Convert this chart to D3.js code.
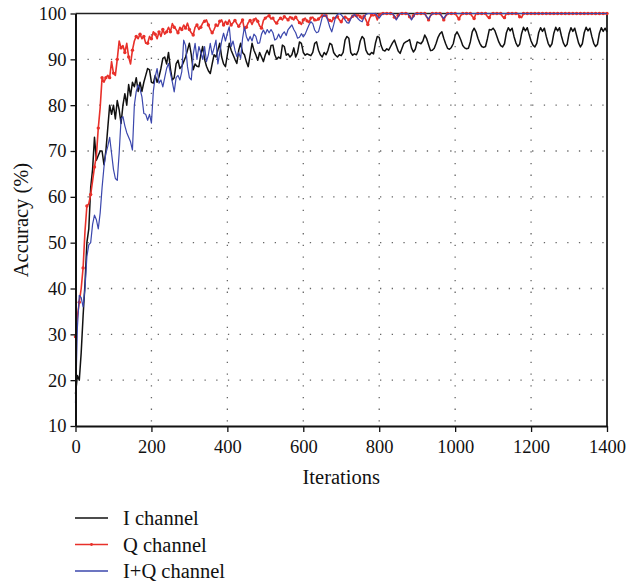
<!DOCTYPE html>
<html>
<head>
<meta charset="utf-8">
<script src="https://cdn.jsdelivr.net/npm/d3@7"></script>
<style>
  body { margin: 0; background: #fff; }
  text { font-family: "Liberation Serif", "DejaVu Serif", serif; fill: #111; }
</style>
</head>
<body>
<svg id="chart" width="638" height="584"></svg>
<script>
// Training accuracy sampled every 5 iterations (0 … 1400)
const iterations = d3.range(0, 1401, 5);

const xTicks = [0, 200, 400, 600, 800, 1000, 1200, 1400];
const yTicks = [10, 20, 30, 40, 50, 60, 70, 80, 90, 100];

const seriesNames = ["I channel", "Q channel", "I+Q channel"];

const iChannel = [
  17, 21, 20, 26, 34, 41, 50, 53, 62, 66,
  73, 68, 69, 70, 70, 67, 70, 75, 80, 78,
  80, 77, 81, 79, 76, 80, 82.5, 80, 84.5, 82,
  85, 84, 86, 83, 85, 83, 85, 86.5, 88, 87.7,
  85, 84.8, 86.5, 85, 86.2, 88, 90.2, 90.5, 89, 91.5,
  88, 85.5, 86, 89, 89.8, 88, 88.5, 89.5, 90.5, 92,
  93.5, 91, 87.7, 89, 88.5, 88.4, 91, 92.8, 90, 88.5,
  87.5, 86.9, 89, 91, 90.5, 92, 93.5, 90.5, 89, 88.4,
  91, 93.5, 92, 91, 90, 89.1, 92, 93.5, 91.5, 91,
  89.5, 88.4, 91, 93.5, 92, 91, 89.8, 91.5, 90.5, 89.5,
  91, 92, 91, 93, 93.1, 91, 90, 90.5, 90.2, 93.1,
  92.8, 90.9, 91.2, 90.5, 91, 92.5, 90.5, 91.5, 93.8, 93.5,
  91.5, 90.9, 91.2, 91, 90.8, 91.5, 93.5, 93.8, 92, 91,
  90.5, 91.5, 91, 92, 93.5, 93.2, 91.5, 90.9, 90.5, 91,
  90.8, 91.5, 94.2, 95, 94.6, 91.5, 90.9, 91.2, 91, 92,
  94, 95, 94.5, 92, 91.2, 91, 91.5, 91.2, 93.5, 95,
  94.8, 93, 92, 91.8, 92.3, 92, 92.8, 93.6, 94.2, 93,
  91.8, 91.3, 92.4, 93.5, 93.8, 94, 94.3, 92.5, 91.6, 92.2,
  93.8, 93.6, 93.4, 94, 95.3, 94.5, 93.2, 91.9, 92, 92.4,
  93.5, 94.8, 95.6, 96, 94.6, 93.4, 92.4, 92.2, 92.6, 93.4,
  95.3, 96, 95.2, 94.2, 93, 92.5, 92.3, 92.4, 93.8, 96,
  96.8, 96, 94.6, 93.5, 92.8, 92.6, 92.8, 94.5, 96.5, 96.4,
  96.8, 96.2, 95, 93.8, 93, 92.7, 93.4, 95.8, 96.9, 96.2,
  96.8, 95, 93.6, 92.8, 93.3, 95.6, 97, 96.2, 96.9, 95.4,
  94, 93.1, 92.7, 93.5, 95.8, 96.9, 96.1, 96.8, 95, 93.5,
  92.7, 93.4, 95.7, 97, 96.2, 96.9, 95.1, 93.6, 92.8, 93.3,
  95.6, 96.9, 96.1, 96.8, 95.2, 93.6, 92.7, 93.4, 95.8, 97,
  96.2, 96.8, 95, 93.5, 92.8, 93.3, 95.7, 96.9, 96.1, 96.8,
  96
];

const qChannel = [
  29.5, 34, 37, 40, 44.5, 52.5, 58, 58.5, 60.5, 63.5,
  66.5, 69, 75, 79.5, 86, 85, 86, 86.5, 86, 89.5,
  87, 86.5, 90, 94, 92.5, 93, 91.5, 93.5, 90.5, 89,
  92, 94, 95, 94.5, 95.5, 94.5, 95, 93.5, 93.5, 95,
  94.5, 96, 95.5, 94.5, 96, 95, 96.5, 95.5, 96, 97,
  96, 97.8, 97, 96.5, 95.8, 97, 96.5, 97.5, 96.8, 97.9,
  96.5, 95.8, 95.3, 97, 97.5, 96.5, 97, 97.9, 98.3, 98.6,
  97.5, 96.5, 95.8, 96.5, 97.5, 97.2, 98.3, 98.6, 97.5, 98.3,
  97.8, 98.6, 97.5, 98, 98.5, 97.8, 97.2, 97.9, 98.6, 96.5,
  97, 98, 98.5, 97.6, 98.6, 99, 98.3, 97.3, 96.8, 98.5,
  99, 99.3, 99.5, 98.8, 99, 98.2, 97.9, 98.6, 99, 98.6,
  99.3, 99, 98.6, 99.3, 99, 98.6, 99.2, 98.6, 98, 97.6,
  98.6, 99, 98.4, 98, 99, 99.2, 98.6, 98.5, 98.8, 99.2,
  99.5, 99.4, 99.5, 98.8, 98.5, 98.2, 99, 99, 99.3, 98.6,
  98.2, 99, 99.2, 99, 98.6, 99, 99.4, 99.7, 99.5, 99.7,
  99.3, 98.8, 99.4, 98.6, 97.6, 99, 99.7, 99.5, 99.8, 98.6,
  99.7, 100, 100, 100, 100, 100, 100, 100, 99.2, 98.8,
  99.6, 100, 100, 100, 100, 100, 99.3, 98.8, 99.5, 100,
  100, 100, 100, 100, 100, 99.2, 98.6, 99.5, 100, 100,
  100, 100, 100, 99.3, 98.6, 99.4, 100, 100, 100, 100,
  100, 99.4, 98.8, 99.6, 100, 100, 100, 100, 100, 99.4,
  98.9, 100, 100, 100, 100, 100, 100, 99.3, 99.1, 100,
  100, 100, 100, 100, 100, 99.3, 99.1, 100, 100, 100,
  100, 100, 100, 100, 99.3, 99.1, 100, 100, 100, 100,
  100, 100, 100, 100, 100, 100, 100, 100, 100, 100,
  100, 100, 100, 100, 100, 100, 100, 100, 100, 100,
  100, 100, 100, 100, 100, 100, 100, 100, 100, 100,
  100, 100, 100, 100, 100, 100, 100, 100, 100, 100,
  100
];

const iqChannel = [
  15, 31.5, 38.5, 38, 36, 40, 47, 49.5, 50, 54,
  56, 55, 53, 56.5, 62, 66.5, 69.5, 71, 73, 69.5,
  66, 64, 63.6, 69.5, 77, 77.5, 75.5, 74, 73, 72,
  70.2, 80, 83, 84.4, 83.5, 81.8, 78.2, 78, 76.7, 78,
  76.1, 83, 86.2, 88, 84.8, 85.5, 84, 86, 88, 89.1,
  87, 85.1, 82.9, 86, 86.5, 85.5, 87.3, 94.2, 93, 88.4,
  86, 85.5, 91, 93.5, 90, 92.8, 91.5, 90, 92.8, 89.5,
  91, 93.5, 91, 92.5, 94.2, 89, 91.5, 94, 95.7, 94,
  95.7, 97.1, 92.8, 94, 92, 90.6, 91.5, 90.2, 94.5, 97.1,
  95, 94, 95, 94, 95.5, 95, 93.5, 93.6, 95.5, 96.4,
  95.5, 96.5, 95.8, 96.5, 95.8, 94.2, 94.5, 95.5, 94.6, 95.5,
  96, 95.2, 96.5, 97, 97.5, 96.5, 95.8, 94.6, 94.8, 95.6,
  94.9, 95.5, 96.5, 97.5, 98.2, 97.8, 96.4, 95.8, 96, 97.5,
  99.2, 99.7, 99.5, 98.4, 97, 96, 97.5, 99.2, 99.8, 100,
  99.7, 99.2, 98.6, 98, 97.9, 98.8, 99.5, 99.8, 99.3, 98.8,
  98.4, 98.2, 99.2, 99.8, 100, 100, 100, 100, 100, 99.5,
  99, 99.6, 100, 100, 100, 100, 100, 100, 99.5, 98.6,
  99.3, 100, 100, 100, 100, 100, 99.5, 98.6, 99.3, 100,
  100, 100, 100, 100, 100, 99.3, 98.8, 99.5, 100, 100,
  100, 100, 100, 99.4, 98.9, 99.6, 100, 100, 100, 100,
  100, 100, 100, 100, 100, 100, 100, 100, 100, 100,
  100, 100, 100, 100, 100, 100, 100, 100, 100, 100,
  100, 100, 100, 100, 100, 100, 100, 100, 100, 100,
  100, 100, 100, 100, 100, 100, 100, 100, 100, 100,
  100, 100, 100, 100, 100, 100, 100, 100, 100, 100,
  100, 100, 100, 100, 100, 100, 100, 100, 100, 100,
  100, 100, 100, 100, 100, 100, 100, 100, 100, 100,
  100, 100, 100, 100, 100, 100, 100, 100, 100, 100,
  100
];

const colors = { i: "#111111", q: "#e8302a", iq: "#3b47ad" };

const svg = d3.select("#chart");
const plotLeft = 75.5, plotRight = 607, plotTop = 13.5, plotBottom = 426;

const x = d3.scaleLinear().domain([0, 1400]).range([plotLeft, plotRight]);
const y = d3.scaleLinear().domain([10, 100]).range([plotBottom, plotTop]);

// dotted grid
const grid = svg.append("g").attr("stroke", "#666").attr("stroke-width", 1.3)
  .attr("stroke-dasharray", "1.3,10.4");
grid.selectAll("line.h").data(yTicks.filter(v => v > 10 && v < 100)).join("line")
  .attr("class", "h")
  .attr("x1", plotLeft + 12).attr("x2", plotRight)
  .attr("y1", d => y(d)).attr("y2", d => y(d));
grid.selectAll("line.v").data(xTicks.filter(v => v > 0 && v < 1400)).join("line")
  .attr("class", "v")
  .attr("x1", d => x(d)).attr("x2", d => x(d))
  .attr("y1", plotTop + 9).attr("y2", plotBottom);

// frame: top and right edges
svg.append("line").attr("x1", plotLeft).attr("x2", plotRight)
  .attr("y1", plotTop).attr("y2", plotTop)
  .attr("stroke", "#222").attr("stroke-width", 1.6);
svg.append("line").attr("x1", plotRight).attr("x2", plotRight)
  .attr("y1", plotTop).attr("y2", plotBottom)
  .attr("stroke", "#333").attr("stroke-width", 2);

// series lines
const pts = arr => arr.map((v, i) => [iterations[i], v]);
const line = d3.line().x(d => x(d[0])).y(d => y(d[1]));

svg.append("path").datum(pts(iChannel)).attr("d", line)
  .attr("fill", "none").attr("stroke", colors.i).attr("stroke-width", 1.5)
  .attr("stroke-linejoin", "round");

const qPts = pts(qChannel);
svg.append("path").datum(qPts).attr("d", line)
  .attr("fill", "none").attr("stroke", colors.q).attr("stroke-width", 1.6)
  .attr("stroke-linejoin", "round");
svg.append("g").selectAll("circle").data(qPts.filter((d, i) => i % 2 === 0)).join("circle")
  .attr("cx", d => x(d[0])).attr("cy", d => y(d[1])).attr("r", 1.7)
  .attr("fill", colors.q);

svg.append("path").datum(pts(iqChannel)).attr("d", line)
  .attr("fill", "none").attr("stroke", colors.iq).attr("stroke-width", 1.2)
  .attr("stroke-linejoin", "round");

// axes
const yAxis = svg.append("g").attr("transform", `translate(${plotLeft},0)`)
  .call(d3.axisLeft(y).tickValues(yTicks).tickFormat(d3.format("d"))
    .tickSize(5).tickSizeOuter(0).tickPadding(4));
const xAxis = svg.append("g").attr("transform", `translate(0,${plotBottom})`)
  .call(d3.axisBottom(x).tickValues(xTicks).tickFormat(d3.format("d"))
    .tickSize(6).tickSizeOuter(0).tickPadding(8));
[yAxis, xAxis].forEach(g => {
  g.attr("font-family", null);
  g.select(".domain").attr("stroke", "#111").attr("stroke-width", 2);
  g.selectAll(".tick line").attr("stroke", "#111").attr("stroke-width", 1.3);
  g.selectAll(".tick text").attr("font-size", 18.5)
    .style("font-family", "'Liberation Serif', serif").attr("fill", "#111");
});

// axis titles
svg.append("text").attr("x", (plotLeft + plotRight) / 2).attr("y", 484)
  .attr("text-anchor", "middle").attr("font-size", 20.5).text("Iterations");
svg.append("text").attr("transform", "translate(28,220) rotate(-90)")
  .attr("text-anchor", "middle").attr("font-size", 20.5).text("Accuracy (%)");

// legend
const legendColors = [colors.i, colors.q, colors.iq];
const lg = svg.append("g");
seriesNames.forEach((name, i) => {
  const ly = 518 + i * 26.5;
  lg.append("line").attr("x1", 75).attr("x2", 108).attr("y1", ly).attr("y2", ly)
    .attr("stroke", legendColors[i]).attr("stroke-width", 1.4);
  if (i === 1) {
    lg.append("circle").attr("cx", 91.5).attr("cy", ly).attr("r", 1.4).attr("fill", colors.q);
  }
  lg.append("text").attr("x", 123).attr("y", ly + 7).attr("font-size", 20.5).text(name);
});
</script>
</body>
</html>
